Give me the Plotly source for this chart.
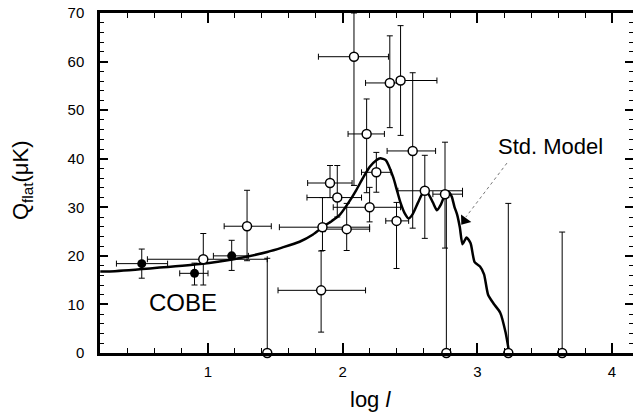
import plotly.graph_objects as go

# open-circle measurements (log l, Q_flat) with asymmetric ranges
open_logl = [0.965, 1.29, 1.44, 1.84, 1.85, 1.906, 1.96, 2.03, 2.084, 2.178, 2.20, 2.25,
             2.35, 2.40, 2.43, 2.52, 2.61, 2.76, 2.77, 3.23, 3.63]
open_q = [19.3, 26.1, 0.0, 12.9, 25.9, 35.0, 32.0, 25.5, 61.0, 45.1, 30.0, 37.2,
          55.6, 27.2, 56.1, 41.6, 33.4, 32.7, 0.0, 0.0, 0.0]
open_xlo = [0.55, 1.12, 1.44, 1.52, 1.53, 1.74, 1.735, 1.87, 1.82, 2.04, 1.93, 2.14,
            2.17, 2.32, 2.40, 2.33, 2.41, 2.67, 2.77, 3.23, 3.63]
open_xhi = [1.44, 1.47, 1.44, 2.17, 2.20, 2.07, 2.14, 2.20, 2.34, 2.31, 2.43, 2.36,
            2.43, 2.49, 2.70, 2.69, 2.89, 2.89, 2.77, 3.23, 3.63]
open_qlo = [14.0, 19.0, 0.0, 4.3, 21.1, 32.0, 28.0, 21.1, 34.5, 33.0, 27.0, 33.1,
            46.4, 17.4, 44.8, 25.7, 23.6, 21.6, 0.0, 0.0, 0.0]
open_qhi = [24.6, 33.5, 19.5, 21.0, 32.0, 38.6, 38.6, 30.8, 70.0, 52.3, 34.1, 41.3,
            65.3, 31.0, 67.4, 57.7, 40.7, 43.4, 32.0, 30.8, 24.9]

# COBE filled points
cobe_logl = [0.508, 0.90, 1.176]
cobe_q = [18.4, 16.4, 20.0]
cobe_xlo = [0.32, 0.79, 1.04]
cobe_xhi = [0.70, 1.00, 1.30]
cobe_qlo = [15.4, 14.0, 17.0]
cobe_qhi = [21.4, 18.5, 23.2]

# standard model curve
model_logl = [0.20, 0.27, 0.57, 0.94, 1.19, 1.44, 1.55, 1.68, 1.78, 1.85, 1.92, 1.98,
              2.04, 2.10, 2.15, 2.20, 2.25, 2.28, 2.32, 2.375, 2.40, 2.43, 2.46, 2.49,
              2.52, 2.56, 2.60, 2.63, 2.67, 2.70, 2.73, 2.76, 2.785, 2.81, 2.83, 2.85,
              2.87, 2.89, 2.92, 2.95, 2.98, 3.02, 3.05, 3.08, 3.12, 3.17, 3.21, 3.235]
model_q = [16.8, 16.8, 17.4, 18.3, 19.3, 20.8, 21.7, 22.9, 24.4, 25.9, 27.2, 28.5,
           30.8, 33.5, 36.0, 38.3, 39.7, 40.1, 39.7, 36.2, 33.8, 30.9, 28.8, 27.7,
           28.6, 31.0, 33.1, 33.0, 31.0, 29.4, 30.6, 32.6, 33.2, 32.2, 30.1, 28.5,
           25.9, 22.4, 23.8, 22.6, 18.7, 17.8, 16.2, 12.0, 10.2, 8.3, 4.2, 0.3]


def err(vals, lo, hi):
    return [h - v for v, h in zip(vals, hi)], [v - l for v, l in zip(vals, lo)]


fig = go.Figure()

fig.add_trace(go.Scatter(x=model_logl, y=model_q, mode="lines",
                         line=dict(color="black", width=2.5, shape="spline", smoothing=0.6),
                         hoverinfo="skip", showlegend=False))

ex_p, ex_m = err(open_logl, open_xlo, open_xhi)
ey_p, ey_m = err(open_q, open_qlo, open_qhi)
fig.add_trace(go.Scatter(
    x=open_logl, y=open_q, mode="markers", cliponaxis=False, showlegend=False,
    marker=dict(symbol="circle", size=9, color="white", line=dict(color="black", width=1.5)),
    error_x=dict(type="data", symmetric=False, array=ex_p, arrayminus=ex_m,
                 color="black", thickness=1, width=3),
    error_y=dict(type="data", symmetric=False, array=ey_p, arrayminus=ey_m,
                 color="black", thickness=1, width=3),
))

cx_p, cx_m = err(cobe_logl, cobe_xlo, cobe_xhi)
cy_p, cy_m = err(cobe_q, cobe_qlo, cobe_qhi)
fig.add_trace(go.Scatter(
    x=cobe_logl, y=cobe_q, mode="markers", cliponaxis=False, showlegend=False,
    marker=dict(symbol="circle", size=9, color="black"),
    error_x=dict(type="data", symmetric=False, array=cx_p, arrayminus=cx_m,
                 color="black", thickness=1, width=3),
    error_y=dict(type="data", symmetric=False, array=cy_p, arrayminus=cy_m,
                 color="black", thickness=1, width=3),
))

font = "Liberation Sans, Arial, Helvetica, sans-serif"

# dotted pointer from the label to the curve, with a solid head
fig.add_shape(type="line", x0=3.22, y0=39.1, x1=2.915, y1=28.0,
              line=dict(color="#777777", width=1, dash="dot"))
fig.add_trace(go.Scatter(x=[2.905], y=[27.3], mode="markers", hoverinfo="skip",
                         showlegend=False, cliponaxis=False,
                         marker=dict(symbol="triangle-up", size=11, angle=216, color="black")))

fig.add_annotation(x=3.54, y=42.6, text="Std. Model", showarrow=False,
                   font=dict(family=font, size=22, color="black"))
fig.add_annotation(x=0.814, y=10.5, text="COBE", showarrow=False,
                   font=dict(family=font, size=24, color="black"))

fig.add_annotation(xref="paper", yref="paper", x=0.5066, y=-0.138, showarrow=False,
                   xanchor="center", yanchor="middle",
                   text="log <i>l</i>", font=dict(family=font, size=22, color="black"))
fig.add_annotation(xref="paper", yref="paper", x=-0.146, y=0.509, showarrow=False,
                   xanchor="center", yanchor="middle",
                   textangle=-90, text="Q<sub>flat</sub>(μK)",
                   font=dict(family=font, size=22, color="black"))

fig.update_layout(
    width=633, height=416,
    margin=dict(l=100, r=0, t=13, b=63, autoexpand=False),
    plot_bgcolor="white", paper_bgcolor="white",
    font=dict(family=font, size=15, color="black"),
)

fig.update_xaxes(range=[0.198, 4.156], tick0=0, dtick=1, ticks="inside", ticklen=10,
                 tickwidth=1.5, tickcolor="black", showline=True, linewidth=2.5,
                 linecolor="black", mirror="ticks", showgrid=False, zeroline=False,
                 ticklabelstandoff=3, automargin=False,
                 minor=dict(ticks="inside", dtick=0.2, ticklen=5, tickwidth=1,
                            tickcolor="black", showgrid=False))
fig.update_yaxes(range=[0, 70], dtick=10, ticks="inside", ticklen=8, tickwidth=1.5,
                 tickcolor="black", showline=True, linewidth=2.5, linecolor="black",
                 mirror="ticks", showgrid=False, zeroline=False, ticklabelstandoff=10,
                 automargin=False,
                 minor=dict(ticks="inside", dtick=2, ticklen=4, tickwidth=1,
                            tickcolor="black", showgrid=False))

fig.write_html("out.html", config={"displayModeBar": False},
               post_script="document.body.style.margin='0px';document.body.style.overflow='hidden';")
